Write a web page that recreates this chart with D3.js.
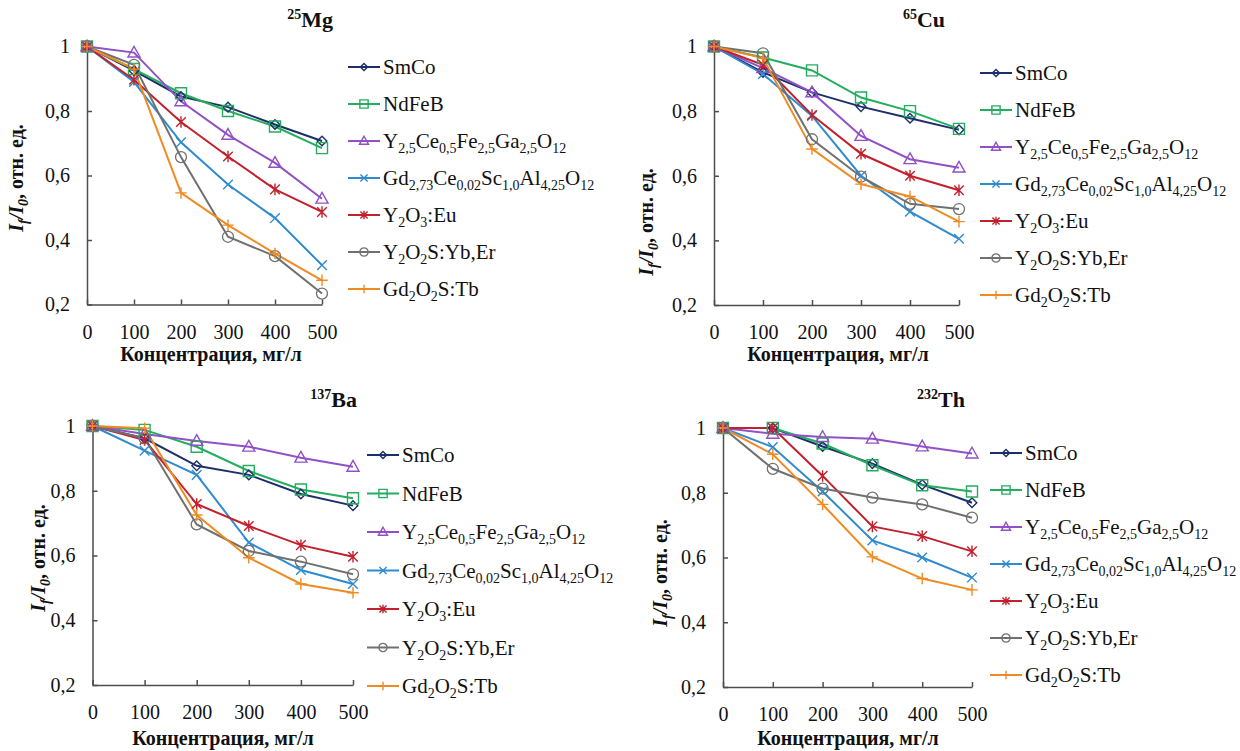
<!DOCTYPE html>
<html>
<head>
<meta charset="utf-8">
<script src="https://cdn.jsdelivr.net/npm/d3@7"></script>
<style>
  body { margin: 0; background: #fff; }
</style>
</head>
<body>
<div id="chart"></div>
<script>
// concentrations, mg/l
var conc = [0, 100, 200, 300, 400, 500];
var yTicks = [0.2, 0.4, 0.6, 0.8, 1];

// legend names, split in [text, isSubscript] pieces
var materials = [
    [["SmCo", 0]],
    [["NdFeB", 0]],
    [["Y", 0], ["2,5", 1], ["Ce", 0], ["0,5", 1], ["Fe", 0], ["2,5", 1], ["Ga", 0], ["2,5", 1], ["O", 0], ["12", 1]],
    [["Gd", 0], ["2,73", 1], ["Ce", 0], ["0,02", 1], ["Sc", 0], ["1,0", 1], ["Al", 0], ["4,25", 1], ["O", 0], ["12", 1]],
    [["Y", 0], ["2", 1], ["O", 0], ["3", 1], [":Eu", 0]],
    [["Y", 0], ["2", 1], ["O", 0], ["2", 1], ["S:Yb,Er", 0]],
    [["Gd", 0], ["2", 1], ["O", 0], ["2", 1], ["S:Tb", 0]]
];
var colors = ["#1d2f6a", "#25ad5f", "#9150c6", "#2f8bcf", "#c2202c", "#707070", "#ef8b23"];
var symbols = ["diamond", "square", "triangle", "cross", "asterisk", "circle", "plus"];

// I/I0 values, one row per material, order as above
var mgData = [
    [1, 0.925, 0.845, 0.812, 0.758, 0.707],
    [1, 0.930, 0.855, 0.800, 0.752, 0.685],
    [1, 0.981, 0.830, 0.726, 0.639, 0.528],
    [1, 0.890, 0.703, 0.572, 0.468, 0.322],
    [1, 0.897, 0.766, 0.659, 0.557, 0.487],
    [1, 0.943, 0.657, 0.410, 0.350, 0.234],
    [1, 0.930, 0.546, 0.446, 0.358, 0.275]
];
var cuData = [
    [1, 0.920, 0.858, 0.814, 0.778, 0.742],
    [1, 0.966, 0.926, 0.842, 0.800, 0.745],
    [1, 0.933, 0.858, 0.723, 0.651, 0.625],
    [1, 0.915, 0.785, 0.600, 0.489, 0.405],
    [1, 0.943, 0.788, 0.668, 0.600, 0.555],
    [1, 0.979, 0.713, 0.597, 0.513, 0.497],
    [1, 0.964, 0.683, 0.574, 0.536, 0.458]
];
var baData = [
    [1, 0.962, 0.877, 0.849, 0.790, 0.754],
    [1, 0.988, 0.936, 0.861, 0.804, 0.777],
    [1, 0.975, 0.954, 0.936, 0.902, 0.874],
    [1, 0.924, 0.849, 0.640, 0.555, 0.512],
    [1, 0.957, 0.759, 0.691, 0.632, 0.596],
    [1, 0.962, 0.696, 0.614, 0.581, 0.542],
    [1, 0.993, 0.725, 0.593, 0.512, 0.485]
];
var thData = [
    [1, 1.000, 0.943, 0.890, 0.825, 0.769],
    [1, 1.000, 0.952, 0.885, 0.823, 0.804],
    [1, 0.982, 0.972, 0.967, 0.943, 0.921],
    [1, 0.941, 0.804, 0.653, 0.600, 0.538],
    [1, 1.000, 0.852, 0.696, 0.666, 0.619],
    [1, 0.874, 0.813, 0.785, 0.764, 0.723],
    [1, 0.919, 0.764, 0.602, 0.535, 0.500]
];

var panels = [
    {iso: "25", el: "Mg", data: mgData, titleX: 333, titleY: 27, x0: 87, x1: 322, yTop: 46.5, yBot: 304.5,
     legX: 348, legY: 67, legDy: 37, ylabX: 16, ylabY: 178, xlabX: 211, xlabY: 361},
    {iso: "65", el: "Cu", data: cuData, titleX: 945, titleY: 27, x0: 714, x1: 959, yTop: 46.5, yBot: 305,
     legX: 980, legY: 73, legDy: 37, ylabX: 646, ylabY: 222, xlabX: 838, xlabY: 361},
    {iso: "137", el: "Ba", data: baData, titleX: 357, titleY: 407, x0: 92.5, x1: 353, yTop: 426, yBot: 685,
     legX: 367, legY: 455, legDy: 38.5, ylabX: 38, ylabY: 558, xlabX: 223, xlabY: 745},
    {iso: "232", el: "Th", data: thData, titleX: 965, titleY: 407, x0: 723, x1: 972, yTop: 428, yBot: 687,
     legX: 990, legY: 453, legDy: 37, ylabX: 660, ylabY: 573, xlabX: 848, xlabY: 745}
];

var FONT = "Liberation Serif";
var W = 1240, H = 751;
var svg = d3.select("#chart").append("svg").attr("width", W).attr("height", H);

function fmt(d) {
    return d === 1 ? "1" : d3.format(".1f")(d).replace(".", ",");
}

function marker(g, type, s, color) {
    var p;
    if (type === "circle") {
        return g.append("circle").attr("r", s).attr("fill", "none")
            .attr("stroke", color).attr("stroke-width", 1.3);
    }
    if (type === "diamond") p = "M0," + (-s) + "L" + s + ",0L0," + s + "L" + (-s) + ",0Z";
    if (type === "square") p = "M" + (-s) + "," + (-s) + "H" + s + "V" + s + "H" + (-s) + "Z";
    if (type === "triangle") p = "M0," + (-s * 1.15) + "L" + (s * 1.1) + "," + (s * 0.8) + "L" + (-s * 1.1) + "," + (s * 0.8) + "Z";
    if (type === "cross") p = "M" + (-s) + "," + (-s) + "L" + s + "," + s + "M" + (-s) + "," + s + "L" + s + "," + (-s);
    if (type === "asterisk") p = "M" + (-s) + "," + (-s) + "L" + s + "," + s + "M" + (-s) + "," + s + "L" + s + "," + (-s) + "M0," + (-s * 1.2) + "L0," + (s * 1.2);
    if (type === "plus") p = "M" + (-s * 1.2) + ",0L" + (s * 1.2) + ",0M0," + (-s * 1.2) + "L0," + (s * 1.2);
    return g.append("path").attr("d", p).attr("fill", "none")
        .attr("stroke", color).attr("stroke-width", 1.4);
}

var markerSize = {diamond: 4.8, square: 5.5, triangle: 5.5, cross: 4.8, asterisk: 4.8, circle: 5.5, plus: 4.8};

panels.forEach(function(pn) {
    var x = d3.scaleLinear().domain([0, 500]).range([pn.x0, pn.x1]);
    var y = d3.scaleLinear().domain([0.2, 1]).range([pn.yBot, pn.yTop]);
    var g = svg.append("g");

    // axes, tick marks inside
    var xa = g.append("g").attr("transform", "translate(0," + pn.yBot + ")")
        .call(d3.axisBottom(x).tickValues(conc).tickSizeInner(-5).tickSizeOuter(0).tickPadding(20));
    var ya = g.append("g").attr("transform", "translate(" + pn.x0 + ",0)")
        .call(d3.axisLeft(y).tickValues(yTicks).tickFormat(fmt).tickSizeInner(-5).tickSizeOuter(0).tickPadding(17));
    [xa, ya].forEach(function(a) {
        a.selectAll("path, line").attr("stroke", "#4d4d4d").attr("stroke-width", 1.5);
        a.selectAll("text").attr("fill", "#111")
            .style("font-family", FONT).style("font-size", "20px");
    });

    // series
    var line = d3.line().x(function(d, i) { return x(conc[i]); }).y(function(d) { return y(d); });
    pn.data.forEach(function(vals, k) {
        g.append("path").datum(vals).attr("d", line).attr("fill", "none")
            .attr("stroke", colors[k]).attr("stroke-width", 2);
    });
    pn.data.forEach(function(vals, k) {
        vals.forEach(function(v, i) {
            var m = g.append("g").attr("transform", "translate(" + x(conc[i]) + "," + y(v) + ")");
            marker(m, symbols[k], markerSize[symbols[k]], colors[k]);
        });
    });

    // title
    var t = g.append("text").attr("x", pn.titleX).attr("y", pn.titleY).attr("text-anchor", "end")
        .style("font-family", FONT).style("font-weight", "bold").attr("fill", "#111");
    t.append("tspan").style("font-size", "14px").attr("dy", -8).text(pn.iso);
    t.append("tspan").style("font-size", "22px").attr("dy", 8).text(pn.el);

    // y label
    var yl = g.append("text").attr("transform", "translate(" + pn.ylabX + "," + pn.ylabY + ") rotate(-90)")
        .attr("text-anchor", "middle").attr("dy", "0.35em")
        .style("font-family", FONT).style("font-weight", "bold").style("font-size", "20px").attr("fill", "#111");
    yl.append("tspan").style("font-style", "italic").text("I");
    yl.append("tspan").style("font-style", "italic").style("font-size", "14px").attr("dy", 5).text("f");
    yl.append("tspan").style("font-style", "italic").attr("dy", -5).text("/I");
    yl.append("tspan").style("font-style", "italic").style("font-size", "14px").attr("dy", 5).text("0");
    yl.append("tspan").attr("dy", -5).text(", отн. ед.");

    // x label
    g.append("text").attr("x", pn.xlabX).attr("y", pn.xlabY).attr("text-anchor", "middle")
        .style("font-family", FONT).style("font-weight", "bold").style("font-size", "20px").attr("fill", "#111")
        .text("Концентрация, мг/л");

    // legend
    materials.forEach(function(segs, k) {
        var ly = pn.legY + k * pn.legDy;
        var lg = g.append("g").attr("transform", "translate(" + pn.legX + "," + ly + ")");
        lg.append("line").attr("x1", 0).attr("x2", 32).attr("stroke", colors[k]).attr("stroke-width", 2);
        var m = lg.append("g").attr("transform", "translate(16,0)");
        marker(m, symbols[k], markerSize[symbols[k]] * 0.75, colors[k]);
        var tx = lg.append("text").attr("x", 35).attr("y", 7)
            .style("font-family", FONT).style("font-size", "21px").attr("fill", "#111");
        var sub = false;
        segs.forEach(function(s) {
            var ts = tx.append("tspan").text(s[0]);
            if (s[1] && !sub) { ts.style("font-size", "14px").attr("dy", 5); sub = true; }
            else if (s[1]) { ts.style("font-size", "14px"); }
            else if (sub) { ts.attr("dy", -5); sub = false; }
        });
    });
});
</script>
</body>
</html>
